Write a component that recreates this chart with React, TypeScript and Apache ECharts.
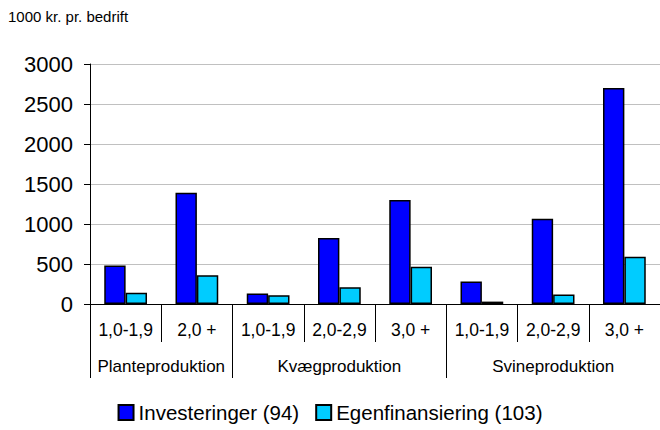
import React, { useEffect, useRef } from "react";
import * as echarts from "echarts";

const categories = ["1,0-1,9", "2,0 +", "1,0-1,9", "2,0-2,9", "3,0 +", "1,0-1,9", "2,0-2,9", "3,0 +"];
const groups = ["Planteproduktion", "Kvægproduktion", "Svineproduktion"];
const groupSizes = [2, 3, 3];
const investeringer = [480, 1390, 130, 825, 1300, 280, 1065, 2700];
const egenfinansiering = [140, 360, 110, 210, 465, 30, 120, 590];
const seriesNames = ["Investeringer (94)", "Egenfinansiering (103)"];
const yTitle = "1000 kr. pr. bedrift";

const FONT = "'Liberation Sans', Arial, sans-serif";

export default function App() {
  const ref = useRef<HTMLDivElement>(null);
  useEffect(() => {
    if (!ref.current) return;
    const chart = echarts.init(ref.current, undefined, { renderer: "svg" });
    const groupStarts: number[] = [];
    let acc = 0;
    for (const s of groupSizes) {
      groupStarts.push(acc);
      acc += s;
    }
    const titleGraphic = {
      type: "text",
      left: 8,
      top: 9,
      style: { text: yTitle, fontSize: 15, fill: "#000", fontFamily: FONT },
    };
    chart.setOption({
      animation: false,
      textStyle: { fontFamily: FONT },
      grid: { left: 90, right: -7, top: 64, bottom: 126, containLabel: false },
      legend: {
        top: 397,
        left: "center",
        icon: "rect",
        itemWidth: 15,
        itemHeight: 15,
        itemGap: 16,
        textStyle: { fontSize: 20.5, color: "#000", fontFamily: FONT },
        data: seriesNames,
      },
      xAxis: [
        {
          type: "category",
          data: categories,
          axisLine: { show: true, lineStyle: { color: "#000", width: 1 } },
          axisTick: { show: true, length: 38, lineStyle: { color: "#000" } },
          axisLabel: { fontSize: 17.5, color: "#000", margin: 17, interval: 0, fontFamily: FONT },
          splitLine: { show: false },
        },
        {
          type: "category",
          data: categories,
          position: "bottom",
          axisLine: { show: false },
          axisTick: {
            show: true,
            length: 74,
            interval: (index: number) => groupStarts.includes(index),
            lineStyle: { color: "#000" },
          },
          axisLabel: { show: false },
          splitLine: { show: false },
        },
      ],
      yAxis: {
        type: "value",
        min: 0,
        max: 3000,
        interval: 500,
        axisLine: { show: true, lineStyle: { color: "#000" } },
        axisTick: { show: true, length: 6, lineStyle: { color: "#000" } },
        axisLabel: {
          fontSize: 22,
          color: "#000",
          margin: 17,
          fontFamily: FONT,
          formatter: (v: number) => String(v),
        },
        splitLine: { show: true, lineStyle: { color: "#c0c0c0", width: 1 } },
      },
      series: [
        {
          name: seriesNames[0],
          type: "bar",
          data: investeringer,
          barGap: "0%",
          barCategoryGap: "40%",
          itemStyle: { color: "#0000ff", borderColor: "#000", borderWidth: 1.5 },
        },
        {
          name: seriesNames[1],
          type: "bar",
          data: egenfinansiering,
          barGap: "0%",
          barCategoryGap: "40%",
          itemStyle: { color: "#00ccff", borderColor: "#000", borderWidth: 1.5 },
        },
      ],
      graphic: [titleGraphic],
    });
    const texts = groups.map((g, i) => {
      const first = groupStarts[i];
      const last = first + groupSizes[i] - 1;
      const x1 = chart.convertToPixel({ xAxisIndex: 0 }, first) as number;
      const x2 = chart.convertToPixel({ xAxisIndex: 0 }, last) as number;
      return {
        type: "text",
        x: (x1 + x2) / 2,
        y: 366,
        style: {
          text: g,
          fontSize: 17,
          fill: "#000",
          fontFamily: FONT,
          align: "center",
          verticalAlign: "middle",
        },
      };
    });
    chart.setOption({ graphic: [titleGraphic, ...texts] });
    return () => chart.dispose();
  }, []);
  return <div ref={ref} style={{ width: 660, height: 430, position: "absolute", left: 0, top: 0 }} />;
}
